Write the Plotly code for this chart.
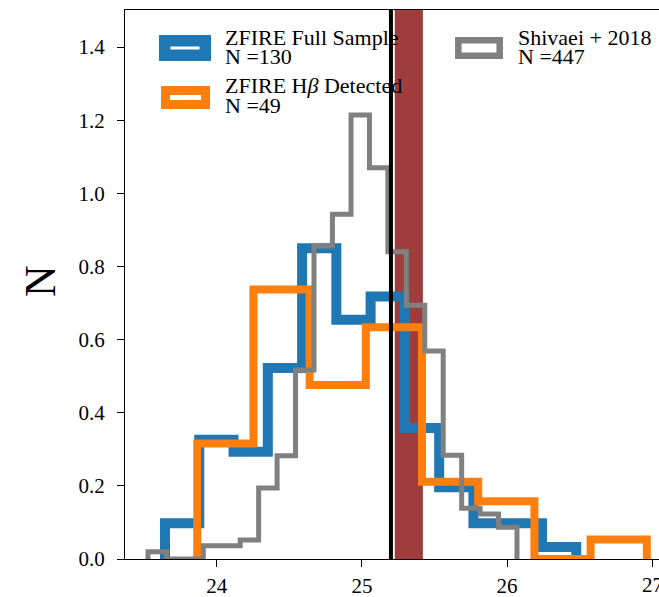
import plotly.graph_objects as go

# ---------------- data ----------------
zfire_full_edges = [23.644, 23.880, 24.116, 24.352, 24.588, 24.824, 25.060,
                    25.296, 25.532, 25.768, 26.004, 26.240, 26.476]
zfire_full_vals = [0.098, 0.326, 0.293, 0.522, 0.850, 0.654, 0.718,
                   0.358, 0.196, 0.098, 0.098, 0.033]

zfire_hb_edges = [23.866, 24.253, 24.640, 25.027, 25.414, 25.801, 26.188,
                  26.575, 26.962]
zfire_hb_vals = [0.316, 0.737, 0.476, 0.634, 0.211, 0.158, 0.0, 0.053]

shivaei_edges = [23.527, 23.654, 23.781, 23.908, 24.035, 24.162, 24.289,
                 24.416, 24.543, 24.670, 24.797, 24.925, 25.052, 25.179,
                 25.306, 25.433, 25.560, 25.687, 25.814, 25.941, 26.068]
shivaei_vals = [0.020, 0.0, 0.0, 0.036, 0.036, 0.052, 0.194, 0.282, 0.517,
                0.856, 0.943, 1.214, 1.070, 0.840, 0.694, 0.569, 0.284,
                0.139, 0.123, 0.087]

vline_x = 25.20
band_x = [25.226, 25.420]

x_ticks = [24, 25, 26, 27]
y_ticks = [0.0, 0.2, 0.4, 0.6, 0.8, 1.0, 1.2, 1.4]

legend_labels = [("ZFIRE Full Sample", "N =130"),
                 ("ZFIRE H<i>β</i> Detected", "N =49"),
                 ("Shivaei + 2018", "N =447")]

BLUE, ORANGE, GRAY = "#1f77b4", "#ff7f0e", "#808080"
FONT = "Liberation Serif"

W, H = 659, 597
ML, MT, MB, MR = 125, 10, 38, 0
PW, PH = W - ML - MR, H - MT - MB


def px(x):
    return (x - ML) / PW


def py(y):
    return (H - MB - y) / PH


def step_xy(edges, vals):
    xs = [edges[0]] + list(edges)
    ys = [0.0] + list(vals) + [0.0]
    return xs, ys


fig = go.Figure()

for edges, vals, col, lw in [(zfire_full_edges, zfire_full_vals, BLUE, 10),
                             (zfire_hb_edges, zfire_hb_vals, ORANGE, 8),
                             (shivaei_edges, shivaei_vals, GRAY, 5)]:
    xs, ys = step_xy(edges, vals)
    fig.add_trace(go.Scatter(x=xs, y=ys, mode="lines", line_shape="hv",
                             line=dict(color=col, width=lw),
                             showlegend=False, hoverinfo="skip",
                             cliponaxis=False))

fig.add_vrect(x0=band_x[0], x1=band_x[1], fillcolor="#9f3d3d", opacity=1,
              line_width=0, layer="below")
fig.add_vline(x=vline_x, line=dict(color="black", width=4), layer="above")

# manual legend (patch-like handles)
handles = [((164.7, 40.7, 205.3, 55.3), BLUE, 11.5, (223, 37, 57)),
           ((165.5, 90.5, 205.5, 104.5), ORANGE, 9, (223, 86, 106)),
           ((458.3, 40.3, 499.7, 55.7), GRAY, 6.5, (516, 37, 57))]
for (x0, y0, x1, y1), col, lw, _ in handles:
    fig.add_shape(type="rect", xref="paper", yref="paper",
                  x0=px(x0), x1=px(x1), y0=py(y1), y1=py(y0),
                  line=dict(color=col, width=lw), fillcolor="white",
                  layer="above")
for (lab1, lab2), (_, _, _, (tx, t1, t2)) in zip(legend_labels, handles):
    for txt, yy in [(lab1, t1), (lab2, t2)]:
        fig.add_annotation(text=txt, xref="paper", yref="paper",
                           x=px(tx), y=py(yy), xanchor="left",
                           yanchor="middle", showarrow=False,
                           font=dict(family=FONT, size=22, color="black"))

# y-axis title
fig.add_annotation(text="N", xref="paper", yref="paper", x=px(40),
                   y=py(281), xanchor="center", yanchor="middle",
                   textangle=-90, showarrow=False,
                   font=dict(family=FONT, size=44, color="black"))

# last x tick label, cut by the right edge as in the reference
fig.add_annotation(text=str(x_ticks[-1]), xref="x", yref="paper",
                   x=x_ticks[-1], y=py(585), xanchor="center",
                   yanchor="middle", showarrow=False,
                   font=dict(family=FONT, size=21, color="black"))

fig.update_layout(
    width=W, height=H,
    margin=dict(l=ML, r=MR, t=MT, b=MB, pad=0, autoexpand=False),
    paper_bgcolor="white", plot_bgcolor="white",
    font=dict(family=FONT, size=21, color="black"),
    xaxis=dict(range=[23.3685, 27.046], tickvals=x_ticks,
               ticktext=[str(t) for t in x_ticks], automargin=False,
               showgrid=False, zeroline=False, showline=True,
               linecolor="black", linewidth=1.3, mirror=True,
               ticks="outside", ticklen=7, tickwidth=1.2, tickcolor="black",
               ticklabelstandoff=1),
    yaxis=dict(range=[0, 1.5012], tickvals=y_ticks,
               ticktext=[f"{t:.1f}" for t in y_ticks], automargin=False,
               showgrid=False, zeroline=False, showline=True,
               linecolor="black", linewidth=1.3,
               ticks="outside", ticklen=7, tickwidth=1.2, tickcolor="black",
               ticklabelstandoff=8),
)

fig.write_html("out.html")
